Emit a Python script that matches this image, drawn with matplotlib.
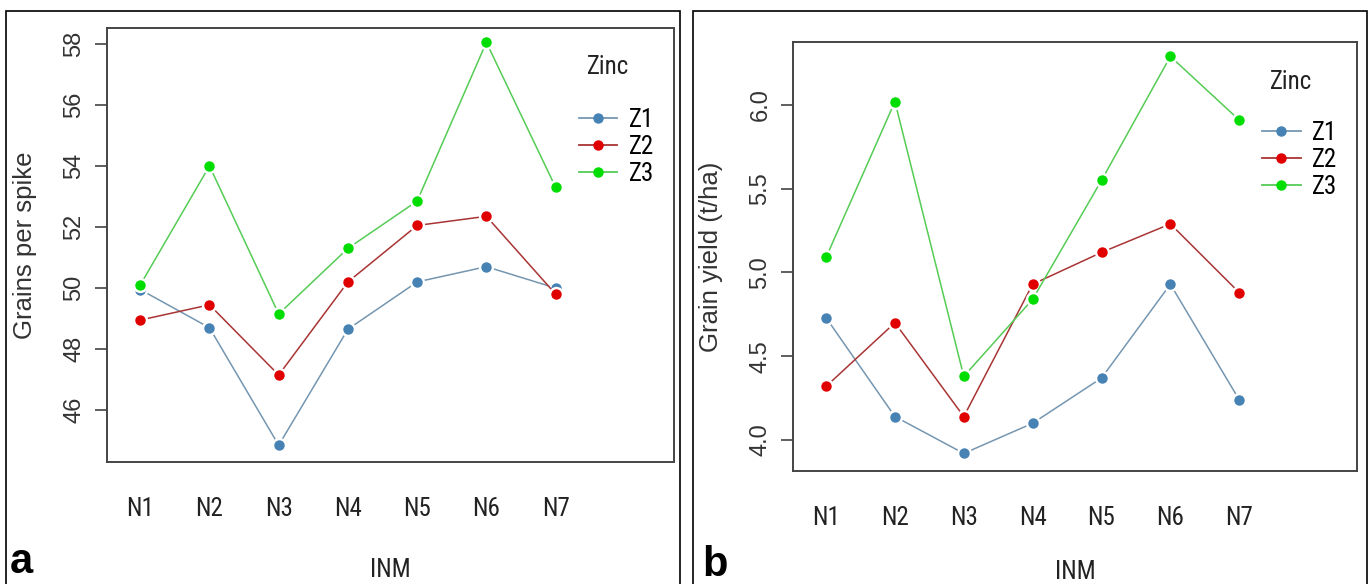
import matplotlib
matplotlib.use("Agg")
import matplotlib.pyplot as plt
from matplotlib import font_manager
from matplotlib.lines import Line2D
from matplotlib.patches import Rectangle

inm = ["N1", "N2", "N3", "N4", "N5", "N6", "N7"]
zinc = ["Z1", "Z2", "Z3"]

# panel a: grains per spike
grains_z1 = [49.95, 48.7, 44.85, 48.65, 50.2, 50.7, 50.0]
grains_z2 = [48.95, 49.45, 47.15, 50.2, 52.05, 52.35, 49.8]
grains_z3 = [50.1, 54.0, 49.15, 51.3, 52.85, 58.05, 53.3]

# panel b: grain yield (t/ha)
yield_z1 = [4.73, 4.14, 3.92, 4.10, 4.37, 4.93, 4.24]
yield_z2 = [4.32, 4.70, 4.14, 4.93, 5.12, 5.29, 4.88]
yield_z3 = [5.09, 6.02, 4.38, 4.84, 5.55, 6.29, 5.91]

grains_ticks = [46, 48, 50, 52, 54, 56, 58]
yield_ticks = [4.0, 4.5, 5.0, 5.5, 6.0]

marker_cols = ["#4682b4", "#e00000", "#00dd00"]
line_cols = ["#7596b0", "#a93434", "#55cc55"]

avail = {f.name for f in font_manager.fontManager.ttflist}
narrow = "Liberation Sans"
for f in ["Liberation Sans Narrow", "Roboto Condensed", "DejaVu Sans Condensed"]:
    if f in avail:
        narrow = f
        break
regular = "Liberation Sans" if "Liberation Sans" in avail else "DejaVu Sans"

plt.rcParams["font.family"] = [regular, "DejaVu Sans"]

fig = plt.figure(figsize=(13.68, 5.84), dpi=100)
W, H = 1368, 584

# outer panel boxes
for x0 in [6, 693]:
    fig.patches.append(Rectangle((x0 / W, -0.05), 674 / W, 1 + 0.05 - 11 / H,
                                 transform=fig.transFigure, fill=False,
                                 edgecolor="black", linewidth=1.2))


def panel(rect, series, ylim, yticks, yfmt, ylabel, letter, leg_xy, zinc_xy, inm_y, letter_xy):
    ax = fig.add_axes(rect)
    x = range(1, len(inm) + 1)
    for i, vals in enumerate(series):
        z = 2 + 3 * i
        ax.plot(x, vals, color=line_cols[i], lw=1.1, zorder=z)
        ax.plot(x, vals, "o", color="white", ms=11, mew=0, zorder=z + 1)
        ax.plot(x, vals, "o", color=marker_cols[i], ms=7.5, mew=0, zorder=z + 2)
    ax.set_xlim(0.52, 8.71)
    ax.set_ylim(*ylim)
    ax.set_xticks(list(x))
    ax.set_xticklabels(inm, fontfamily=narrow, fontsize=18, color="#222222")
    ax.tick_params(axis="x", length=0, pad=25)
    ax.set_yticks(yticks)
    ax.set_yticklabels([yfmt.format(v) for v in yticks], rotation=90, va="center",
                       fontfamily=regular, fontsize=17, color="#333333")
    ax.tick_params(axis="y", length=8.6, width=1.1, color="#333333", pad=7)
    for s in ax.spines.values():
        s.set_color("#444444")
        s.set_linewidth(1.4)
    ax.set_ylabel(ylabel, fontfamily=regular, fontsize=18.5, color="#333333")
    ax.yaxis.set_label_coords(-0.124, 0.5)
    ax.text(0.5, inm_y, "INM", transform=ax.transAxes, ha="center", va="center",
            fontfamily=narrow, fontsize=18, color="#222222")
    ax.text(zinc_xy[0], zinc_xy[1], "Zinc", transform=ax.transAxes, ha="center",
            va="center", fontfamily=narrow, fontsize=18, color="#222222")
    handles = [Line2D([], [], color=line_cols[i], lw=1.3, marker="o", ms=6.5,
                      mfc=marker_cols[i], mec=marker_cols[i]) for i in range(3)]
    ax.legend(handles, zinc, loc="center left", bbox_to_anchor=leg_xy, frameon=False,
              borderaxespad=0, borderpad=0, handlelength=1.55, handletextpad=0.45,
              labelspacing=0.12, prop={"family": narrow, "size": 18})
    fig.text(letter_xy[0] / W, 1 - letter_xy[1] / H, letter, fontsize=30,
             fontweight="bold", ha="left", va="baseline", color="black")
    return ax


panel([107 / W, 1 - 462 / H, 567 / W, 434 / H],
      [grains_z1, grains_z2, grains_z3], (44.3, 58.52), grains_ticks, "{:.0f}",
      "Grains per spike", "a", (0.832, 0.726), (0.8836, 0.910),
      -(570 - 462) / 434, (10, 573))

panel([793 / W, 1 - 471 / H, 564 / W, 429 / H],
      [yield_z1, yield_z2, yield_z3], (3.815, 6.376), yield_ticks, "{:.1f}",
      "Grain yield (t/ha)", "b", (0.8316, 0.725), (0.883, 0.907),
      -(572 - 471) / 429, (702, 576))

fig.savefig("out.png", dpi=100)
